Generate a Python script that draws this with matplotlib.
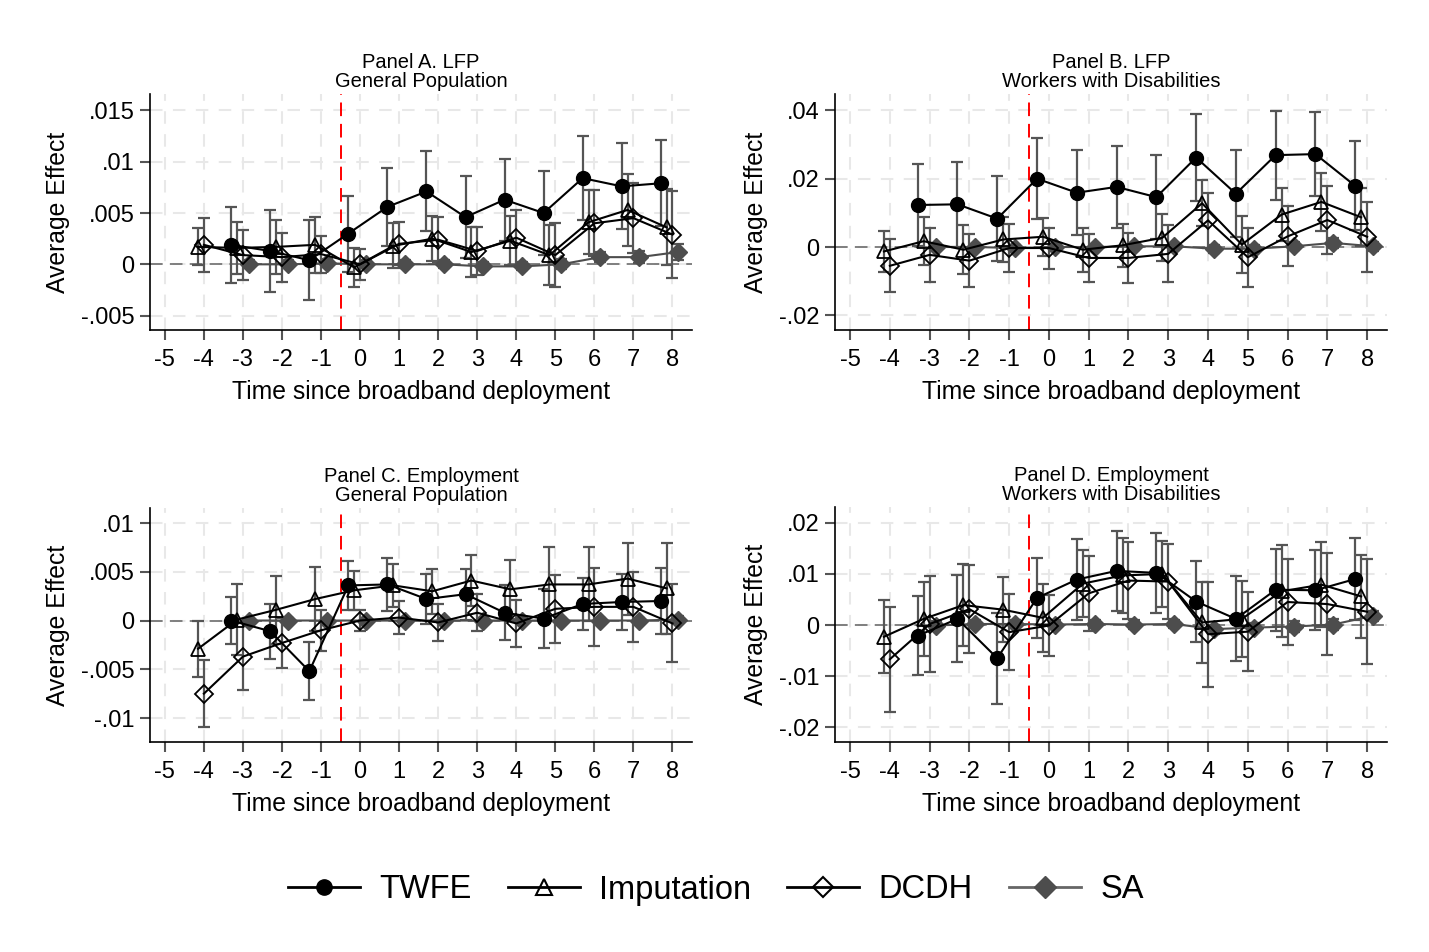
import numpy as np
import matplotlib.pyplot as plt
from matplotlib.lines import Line2D

plt.rcParams['font.family'] = ['Liberation Sans', 'DejaVu Sans']
plt.rcParams['axes.unicode_minus'] = False

# event time
periods = np.arange(-4, 9)

# Panel A. LFP, general population
a_twfe = [0.0019, 0.0013, 0.0004, 0.0030, 0.0056, 0.0071, 0.0046, 0.0063, 0.0050, 0.0084, 0.0076, 0.0079]
a_twfe_ci = [0.0037, 0.0040, 0.0039, 0.0037, 0.0038, 0.0039, 0.0040, 0.0040, 0.0041, 0.0041, 0.0042, 0.0042]
a_imp = [0.0017, 0.0016, 0.0017, 0.0019, -0.0003, 0.0018, 0.0025, 0.0012, 0.0023, 0.0009, 0.0041, 0.0053, 0.0036]
a_imp_ci = [0.0018, 0.0025, 0.0026, 0.0027, 0.0019, 0.0022, 0.0022, 0.0024, 0.0024, 0.0029, 0.0031, 0.0035, 0.0037]
a_dcdh = [0.0019, 0.0009, 0.0007, 0.0010, 0.0000, 0.0020, 0.0024, 0.0013, 0.0026, 0.0009, 0.0040, 0.0045, 0.0029]
a_dcdh_ci = [0.0026, 0.0024, 0.0024, 0.0018, 0.0015, 0.0021, 0.0022, 0.0023, 0.0027, 0.0031, 0.0032, 0.0034, 0.0042]
a_sa = [0.0000, 0.0000, 0.0001, 0.0000, 0.0000, 0.0000, -0.0002, -0.0002, 0.0000, 0.0007, 0.0007, 0.0012]
a_sa_ci = [0.0004, 0.0004, 0.0004, 0.0004, 0.0004, 0.0004, 0.0004, 0.0004, 0.0005, 0.0005, 0.0006, 0.0008]

# Panel B. LFP, workers with disabilities
b_twfe = [0.0123, 0.0125, 0.0083, 0.0200, 0.0159, 0.0176, 0.0146, 0.0262, 0.0156, 0.0269, 0.0272, 0.0179]
b_twfe_ci = [0.0120, 0.0125, 0.0124, 0.0118, 0.0125, 0.0120, 0.0123, 0.0127, 0.0128, 0.0130, 0.0123, 0.0130]
b_imp = [-0.0013, 0.0017, -0.0008, 0.0022, 0.0030, -0.0008, 0.0005, 0.0027, 0.0128, 0.0007, 0.0095, 0.0132, 0.0087]
b_imp_ci = [0.0060, 0.0070, 0.0072, 0.0066, 0.0055, 0.0064, 0.0063, 0.0069, 0.0067, 0.0083, 0.0077, 0.0084, 0.0085]
b_dcdh = [-0.0055, -0.0023, -0.0040, -0.0003, -0.0003, -0.0032, -0.0032, -0.0020, 0.0078, -0.0030, 0.0031, 0.0079, 0.0030]
b_dcdh_ci = [0.0077, 0.0079, 0.0078, 0.0070, 0.0060, 0.0071, 0.0074, 0.0083, 0.0081, 0.0087, 0.0088, 0.0100, 0.0103]
b_sa = [0.0000, 0.0000, -0.0003, 0.0000, 0.0000, 0.0002, 0.0002, -0.0005, -0.0005, 0.0002, 0.0012, 0.0002]
b_sa_ci = [0.0010, 0.0010, 0.0010, 0.0010, 0.0010, 0.0010, 0.0010, 0.0012, 0.0012, 0.0012, 0.0014, 0.0014]

# Panel C. Employment, general population
c_twfe = [0.0000, -0.0011, -0.0052, 0.0036, 0.0037, 0.0022, 0.0027, 0.0008, 0.0002, 0.0017, 0.0019, 0.0020]
c_twfe_ci = [0.0024, 0.0028, 0.0030, 0.0025, 0.0027, 0.0026, 0.0026, 0.0028, 0.0030, 0.0027, 0.0029, 0.0034]
c_imp = [-0.0029, 0.0001, 0.0011, 0.0022, 0.0031, 0.0036, 0.0030, 0.0041, 0.0032, 0.0037, 0.0037, 0.0043, 0.0033]
c_imp_ci = [0.0029, 0.0036, 0.0035, 0.0033, 0.0020, 0.0022, 0.0023, 0.0026, 0.0030, 0.0038, 0.0038, 0.0037, 0.0047]
c_dcdh = [-0.0075, -0.0037, -0.0023, -0.0010, 0.0000, 0.0003, -0.0002, 0.0008, -0.0003, 0.0012, 0.0014, 0.0014, -0.0003]
c_dcdh_ci = [0.0034, 0.0034, 0.0026, 0.0021, 0.0011, 0.0017, 0.0019, 0.0019, 0.0024, 0.0035, 0.0040, 0.0036, 0.0040]
c_sa = [0.0000, 0.0000, 0.0000, 0.0000, 0.0000, 0.0000, 0.0000, 0.0000, 0.0000, 0.0000, 0.0000, 0.0001]
c_sa_ci = [0.0003, 0.0003, 0.0003, 0.0003, 0.0003, 0.0003, 0.0003, 0.0003, 0.0003, 0.0003, 0.0003, 0.0004]

# Panel D. Employment, workers with disabilities
d_twfe = [-0.0021, 0.0012, -0.0065, 0.0053, 0.0089, 0.0106, 0.0102, 0.0046, 0.0012, 0.0069, 0.0068, 0.0090]
d_twfe_ci = [0.0077, 0.0085, 0.0089, 0.0078, 0.0080, 0.0078, 0.0078, 0.0079, 0.0083, 0.0080, 0.0078, 0.0080]
d_imp = [-0.0023, 0.0012, 0.0039, 0.0030, 0.0014, 0.0081, 0.0097, 0.0100, 0.0005, 0.0012, 0.0066, 0.0079, 0.0056]
d_imp_ci = [0.0071, 0.0073, 0.0081, 0.0064, 0.0067, 0.0066, 0.0073, 0.0065, 0.0079, 0.0075, 0.0090, 0.0083, 0.0081]
d_dcdh = [-0.0067, 0.0002, 0.0031, -0.0014, -0.0001, 0.0062, 0.0087, 0.0085, -0.0018, -0.0013, 0.0045, 0.0041, 0.0026]
d_dcdh_ci = [0.0103, 0.0094, 0.0086, 0.0074, 0.0060, 0.0074, 0.0076, 0.0074, 0.0103, 0.0077, 0.0085, 0.0099, 0.0103]
d_sa = [-0.0001, 0.0002, 0.0002, 0.0001, 0.0002, 0.0001, 0.0002, -0.0008, -0.0005, -0.0003, 0.0001, 0.0018]
d_sa_ci = [0.0008, 0.0008, 0.0008, 0.0008, 0.0008, 0.0008, 0.0008, 0.0009, 0.0009, 0.0010, 0.0010, 0.0010]

titles = ["Panel A. LFP\nGeneral Population", "Panel B. LFP\nWorkers with Disabilities",
          "Panel C. Employment\nGeneral Population", "Panel D. Employment\nWorkers with Disabilities"]
yticks = [[-0.005, 0, 0.005, 0.01, 0.015], [-0.02, 0, 0.02, 0.04],
          [-0.01, -0.005, 0, 0.005, 0.01], [-0.02, -0.01, 0, 0.01, 0.02]]
yticklabels = [["-.005", "0", ".005", ".01", ".015"], ["-.02", "0", ".02", ".04"],
               ["-.01", "-.005", "0", ".005", ".01"], ["-.02", "-.01", "0", ".01", ".02"]]
ylims = [(-0.0064, 0.0166), (-0.0243, 0.0448), (-0.01246, 0.01154), (-0.0229, 0.0231)]

panels = [
    (a_twfe, a_twfe_ci, a_imp, a_imp_ci, a_dcdh, a_dcdh_ci, a_sa, a_sa_ci),
    (b_twfe, b_twfe_ci, b_imp, b_imp_ci, b_dcdh, b_dcdh_ci, b_sa, b_sa_ci),
    (c_twfe, c_twfe_ci, c_imp, c_imp_ci, c_dcdh, c_dcdh_ci, c_sa, c_sa_ci),
    (d_twfe, d_twfe_ci, d_imp, d_imp_ci, d_dcdh, d_dcdh_ci, d_sa, d_sa_ci),
]

W, H = 1429, 952
# axes boxes in pixels: left, top, right, bottom
boxes = [(150, 94, 692, 330), (835, 94, 1387, 330), (150, 508, 692, 742), (835, 507, 1387, 742)]

fig = plt.figure(figsize=(W / 100, H / 100), dpi=100)

bar_col = '#555555'
sa_col = '#4d4d4d'

for i, (tw, twc, im, imc, dc, dcc, sa, sac) in enumerate(panels):
    l, t, r, b = boxes[i]
    ax = fig.add_axes([l / W, 1 - b / H, (r - l) / W, (b - t) / H])

    x_late = periods[1:]
    # grid and reference lines
    for xv in range(-5, 9):
        ax.axvline(xv, color='#e8e8e8', lw=1.5, ls=(0, (6, 5)), zorder=0)
    for yv in yticks[i]:
        ax.axhline(yv, color='#e8e8e8', lw=1.5, ls=(0, (6, 5)), zorder=0)
    ax.axhline(0, color='#777777', lw=1.3, ls=(0, (7, 4)), zorder=1)
    ax.axvline(-0.5, color='red', lw=1.4, ls=(0, (7, 4)), zorder=1)

    # confidence intervals
    ek = dict(fmt='none', ecolor=bar_col, elinewidth=1.6, capsize=4, capthick=1.6, zorder=2)
    ax.errorbar(x_late - 0.3, tw, yerr=twc, **ek)
    ax.errorbar(periods - 0.15, im, yerr=imc, **ek)
    ax.errorbar(periods, dc, yerr=dcc, **ek)
    ax.errorbar(x_late + 0.15, sa, yerr=sac, **ek)

    # estimates
    ax.plot(x_late + 0.15, sa, color=sa_col, lw=1.5, marker='D', ms=9,
            mfc=sa_col, mec=sa_col, zorder=3)
    ax.plot(periods, dc, color='black', lw=1.5, marker='D', ms=9,
            mfc='none', mec='black', mew=1.3, zorder=4)
    ax.plot(periods - 0.15, im, color='black', lw=1.5, marker='^', ms=10,
            mfc='none', mec='black', mew=1.3, zorder=5)
    ax.plot(x_late - 0.3, tw, color='black', lw=1.5, marker='o', ms=10,
            mfc='black', mec='black', zorder=6)

    ax.set_xlim(-5.38, 8.5)
    ax.set_ylim(*ylims[i])
    ax.set_xticks(range(-5, 9))
    ax.set_yticks(yticks[i])
    ax.set_yticklabels(yticklabels[i])
    ax.tick_params(axis='both', labelsize=17, length=7, width=1.5, color='#555555')
    ax.tick_params(axis='x', pad=7)
    ax.tick_params(axis='y', pad=4)
    for s in ['top', 'right']:
        ax.spines[s].set_visible(False)
    for s in ['left', 'bottom']:
        ax.spines[s].set_linewidth(1.2)
        ax.spines[s].set_color('black')

    ax.set_xlabel("Time since broadband deployment", fontsize=17.8, labelpad=6)
    ax.set_ylabel("Average Effect", fontsize=17.8, labelpad=8)
    ax.set_title(titles[i], fontsize=14.5, linespacing=1.0, pad=5)

handles = [
    Line2D([], [], color='black', lw=2, marker='o', ms=11, mfc='black', mec='black'),
    Line2D([], [], color='black', lw=2, marker='^', ms=11, mfc='none', mec='black', mew=1.5),
    Line2D([], [], color='black', lw=2, marker='D', ms=10, mfc='none', mec='black', mew=1.5),
    Line2D([], [], color='#666666', lw=2, marker='D', ms=11, mfc=sa_col, mec=sa_col),
]
fig.legend(handles, ["TWFE", "Imputation", "DCDH", "SA"], loc='center', ncol=4,
           bbox_to_anchor=(716 / W, 1 - 890 / H), frameon=False, fontsize=23.5,
           handlelength=2.2, handletextpad=0.6, columnspacing=1.1)

fig.savefig("out.png", dpi=100)
